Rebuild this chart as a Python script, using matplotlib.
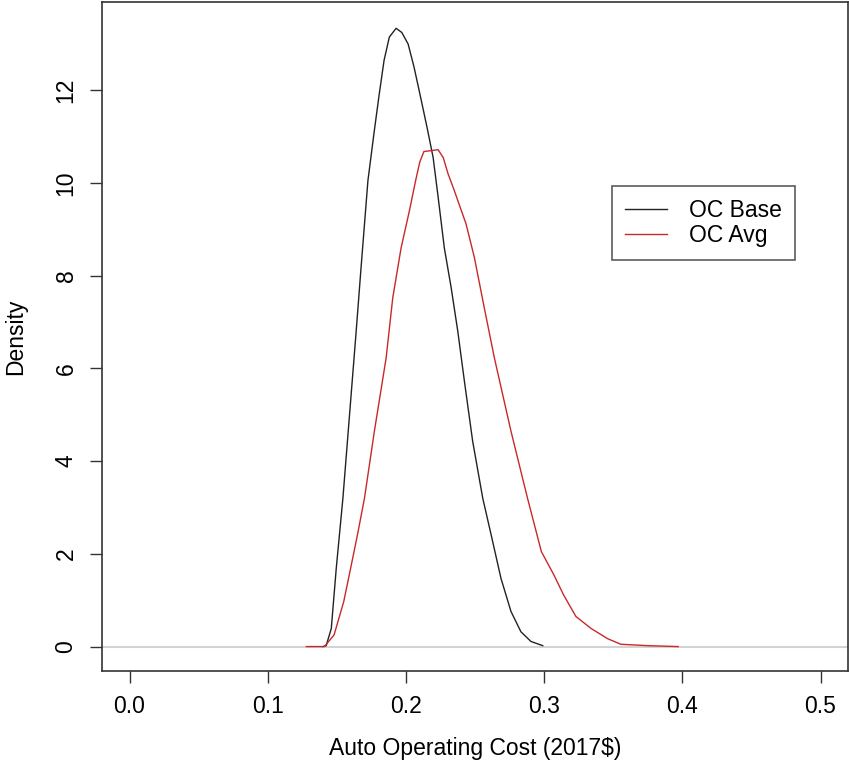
import numpy as np
import matplotlib.pyplot as plt

plt.rcParams['font.family'] = ['Liberation Sans', 'DejaVu Sans']

# density curves (x = cost, y = density)
base_x = [0.140, 0.1423, 0.146, 0.1496, 0.1544, 0.1592, 0.1624, 0.164, 0.1676,
          0.1725, 0.177, 0.1806, 0.1842, 0.188, 0.1929, 0.197, 0.2016, 0.2059,
          0.211, 0.2153, 0.2197, 0.2233, 0.2278, 0.2327, 0.2375, 0.2423, 0.2483,
          0.2556, 0.2616, 0.2688, 0.276, 0.2832, 0.2905, 0.299]
base_y = [0.0, 0.02, 0.39, 1.69, 3.2, 5.0, 6.2, 6.8, 8.2,
          10.05, 11.1, 11.9, 12.65, 13.15, 13.34, 13.25, 13.0, 12.5,
          11.8, 11.2, 10.55, 9.7, 8.6, 7.75, 6.81, 5.73, 4.43,
          3.2, 2.42, 1.47, 0.76, 0.32, 0.11, 0.02]

avg_x = [0.128, 0.141, 0.148, 0.155, 0.160, 0.165, 0.170, 0.1772, 0.1857,
         0.1905, 0.1965, 0.2025, 0.207, 0.210, 0.213, 0.218, 0.2233, 0.227,
         0.2305, 0.235, 0.2435, 0.2495, 0.2567, 0.264, 0.276, 0.288, 0.298,
         0.307, 0.314, 0.323, 0.334, 0.346, 0.3555, 0.375, 0.397]
avg_y = [0.0, 0.0, 0.25, 0.97, 1.69, 2.42, 3.2, 4.65, 6.23,
         7.53, 8.6, 9.4, 10.05, 10.45, 10.68, 10.7, 10.72, 10.55,
         10.2, 9.84, 9.12, 8.4, 7.31, 6.23, 4.65, 3.2, 2.05,
         1.55, 1.12, 0.65, 0.39, 0.17, 0.05, 0.02, 0.0]

labels = ['OC Base', 'OC Avg']
xticks = [0.0, 0.1, 0.2, 0.3, 0.4, 0.5]
yticks = [0, 2, 4, 6, 8, 10, 12]

fig = plt.figure(figsize=(8.49, 7.75), dpi=100)
ax = fig.add_axes([0.120, 0.134, 0.879, 0.863])

ax.axhline(0, color='#d3d3d3', lw=1.5, zorder=1)
ax.plot(base_x, base_y, color='#222222', lw=1.0, label=labels[0], zorder=3)
ax.plot(avg_x, avg_y, color='#c8282a', lw=1.0, label=labels[1], zorder=3)

ax.set_xlim(-0.02, 0.52)
ax.set_ylim(-0.53, 13.9)
ax.set_xticks(xticks)
ax.set_xticklabels(['%.1f' % t for t in xticks])
ax.set_yticks(yticks)
ax.set_yticklabels([str(t) for t in yticks], rotation=90, va='center')
ax.tick_params(direction='out', length=8.5, width=1.0, color='#333333',
               labelsize=16.5, pad=9)

for sp in ax.spines.values():
    sp.set_color('#333333')
    sp.set_linewidth(1.2)

ax.set_xlabel('Auto Operating Cost (2017$)', fontsize=16.5, labelpad=13)
ax.set_ylabel('Density', fontsize=16.5, labelpad=20)

leg = ax.legend(loc='upper left', bbox_to_anchor=(0.684, 0.725),
                borderaxespad=0, fontsize=16.5, frameon=True, fancybox=False,
                edgecolor='#333333', handlelength=1.85, handletextpad=0.95,
                borderpad=0.55, labelspacing=0.1)
leg.get_frame().set_linewidth(1.2)

fig.savefig('out.png', dpi=100)
